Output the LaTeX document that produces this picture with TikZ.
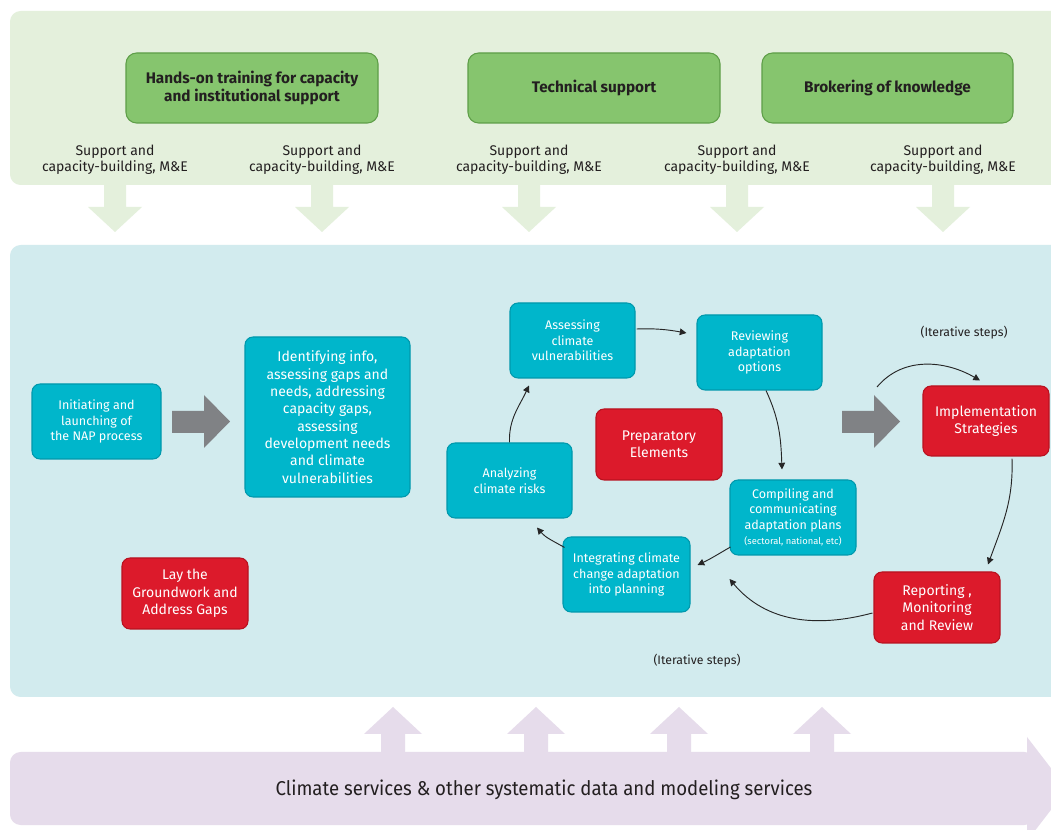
\documentclass[tikz,border=0pt]{standalone}
\usepackage{fontspec}
\setmainfont{Fira Sans}
\newfontfamily\condfont[FakeStretch=0.93]{Fira Sans}
\usetikzlibrary{calc,arrows.meta}
\definecolor{toppanel}{HTML}{E4F0DC}
\definecolor{greenfill}{HTML}{86C56E}
\definecolor{greenline}{HTML}{5E9E48}
\definecolor{bluepanel}{HTML}{D2EBEE}
\definecolor{bluefill}{HTML}{00B6CB}
\definecolor{blueline}{HTML}{0098AC}
\definecolor{redfill}{HTML}{DC1A2B}
\definecolor{redline}{HTML}{B8121F}
\definecolor{grayarrow}{HTML}{808285}
\definecolor{bandcol}{HTML}{E6DCEB}
\definecolor{darktext}{HTML}{231F20}
\begin{document}
\begin{tikzpicture}[x=0.75pt,y=-0.75pt,
  sz/.style 2 args={minimum width=#1*0.75pt, minimum height=#2*0.75pt},
  greenbox/.style={draw=greenline, fill=greenfill, line width=0.8pt, rounded corners=8pt,
     inner sep=2pt, align=center, text=darktext, font=\fontsize{11.5}{13.5}\selectfont\bfseries},
  bluebox/.style={draw=blueline, fill=bluefill, line width=0.8pt, rounded corners=6pt,
     inner sep=2pt, align=center, text=white, font=\fontsize{9.4}{11.6}\selectfont},
  redbox/.style={draw=redline, fill=redfill, line width=0.8pt, rounded corners=6pt,
     inner sep=2pt, align=center, text=white, font=\fontsize{10.5}{13}\selectfont},
  suplabel/.style={align=center, text=darktext, inner sep=0pt, font=\fontsize{10.5}{12}\selectfont},
  itlabel/.style={text=darktext, inner sep=0pt, font=\fontsize{9.2}{10}\selectfont},
  conn/.style={draw=black!85, line width=0.7pt, -{Triangle[length=5pt,width=5pt]}}
]
\useasboundingbox (0,0) rectangle (1051,830);
\clip (0,0) rectangle (1051,830);
\fill[white] (0,0) rectangle (1051,830);

% top panel
\fill[toppanel, rounded corners=8pt] (10,11) rectangle (1070,185);
\foreach \c in {115,322,529,737,943}{
  \fill[toppanel] (\c-11,180) -- (\c+11,180) -- (\c+11,207) -- (\c+27,207) -- (\c,232) -- (\c-27,207) -- (\c-11,207) -- cycle;
}
% blue panel
\fill[bluepanel, rounded corners=8pt] (10,245) rectangle (1070,697);
% bottom band
\fill[bandcol, rounded corners=8pt] (10,752) rectangle (1035,825);
\fill[bandcol] (1027,737) -- (1067,789) -- (1027,841) -- cycle;
\foreach \c in {393,536,679,822}{
  \fill[bandcol] (\c-12,757) -- (\c-12,734) -- (\c-29,734) -- (\c,707) -- (\c+29,734) -- (\c+12,734) -- (\c+12,757) -- cycle;
}
\node[text=darktext, inner sep=0pt, font=\condfont\fontsize{15}{18}\selectfont] (bandtext) at (544,790)
  {Climate services \& other systematic data and modeling services};

% green boxes
\node[greenbox, sz={252}{70}] (train) at (252,88) {Hands-on training for capacity\\and institutional support};
\node[greenbox, sz={252}{70}] (tech) at (594,88) {Technical support};
\node[greenbox, sz={251}{70}] (broker) at (887.5,88) {Brokering of knowledge};
\node[suplabel] (s1) at (115,160) {Support and\\capacity-building, M\&E};
\node[suplabel] (s2) at (322,160) {Support and\\capacity-building, M\&E};
\node[suplabel] (s3) at (529,160) {Support and\\capacity-building, M\&E};
\node[suplabel] (s4) at (737,160) {Support and\\capacity-building, M\&E};
\node[suplabel] (s5) at (943,160) {Support and\\capacity-building, M\&E};

% gray block arrows
\fill[grayarrow] (172,411) -- (204,411) -- (204,395) -- (230,421.5) -- (204,448) -- (204,433) -- (172,433) -- cycle;
\fill[grayarrow] (842,411) -- (874,411) -- (874,395) -- (900,421.5) -- (874,448) -- (874,433) -- (842,433) -- cycle;

% blue boxes
\node[bluebox, sz={129}{75}] (init) at (96.5,421.5) {Initiating and\\launching of\\the NAP process};
\node[bluebox, sz={165}{160}, font=\fontsize{10.5}{13}\selectfont] (ident) at (327.5,417)
  {Identifying info,\\assessing gaps and\\needs, addressing\\capacity gaps,\\assessing\\development needs\\and climate\\vulnerabilities};
\node[bluebox, sz={125}{75}] (assess) at (572.5,340.5) {Assessing\\climate\\vulnerabilities};
\node[bluebox, sz={125}{75}] (review) at (759.5,352.5) {Reviewing\\adaptation\\options};
\node[bluebox, sz={125}{75}] (analyze) at (509.5,480.5) {Analyzing\\climate risks};
\node[bluebox, sz={126}{75}] (compile) at (793,517.5) {Compiling and\\communicating\\adaptation plans\\{\fontsize{7}{9}\selectfont(sectoral, national, etc)}};
\node[bluebox, sz={127}{75}] (integ) at (626.5,574.5) {Integrating climate\\change adaptation\\into planning};

% red boxes
\node[redbox, sz={126}{71}] (prep) at (659,444.5) {Preparatory\\Elements};
\node[redbox, sz={126}{70}] (impl) at (986,421) {Implementation\\Strategies};
\node[redbox, sz={126}{71}] (report) at (937,607.5) {Reporting ,\\Monitoring\\and Review};
\node[redbox, sz={126}{71}] (lay) at (185,593.5) {Lay the\\Groundwork and\\Address Gaps};

% labels
\node[itlabel] (it1) at (964,333) {(Iterative steps)};
\node[itlabel] (it2) at (697,661) {(Iterative steps)};

% connectors
\coordinate (itstart) at (877,387);
\draw[conn] ($(assess.east)+(1,-11.5)$) to[out=2,in=170] ($(review.west)+(-10,-19.5)$);
\draw[conn] ($(review.south)+(6.5,0)$) to[out=-65,in=92] ($(compile.north)+(-11,-10)$);
\draw[conn] ($(compile.west)+(1,29.5)$) to[out=-150,in=25] ($(integ.east)+(7,-9.5)$);
\draw[conn] ($(integ.north west)+(2,11)$) to[out=150,in=-50] ($(analyze.south)+(27.5,9)$);
\draw[conn] (analyze.north) to[out=92,in=-115] ($(assess.south)+(-43.5,7)$);
\draw[conn] (itstart) to[out=50,in=150] ($(impl.north)+(-6,-5)$);
\draw[conn] ($(impl.south)+(26,2)$) to[out=-88,in=70] ($(report.north)+(51,-7)$);
\draw[conn] ($(report.west)+(-1,5.5)$) to[out=195,in=-50] ($(integ.east)+(39,4.5)$);
\end{tikzpicture}
\end{document}
